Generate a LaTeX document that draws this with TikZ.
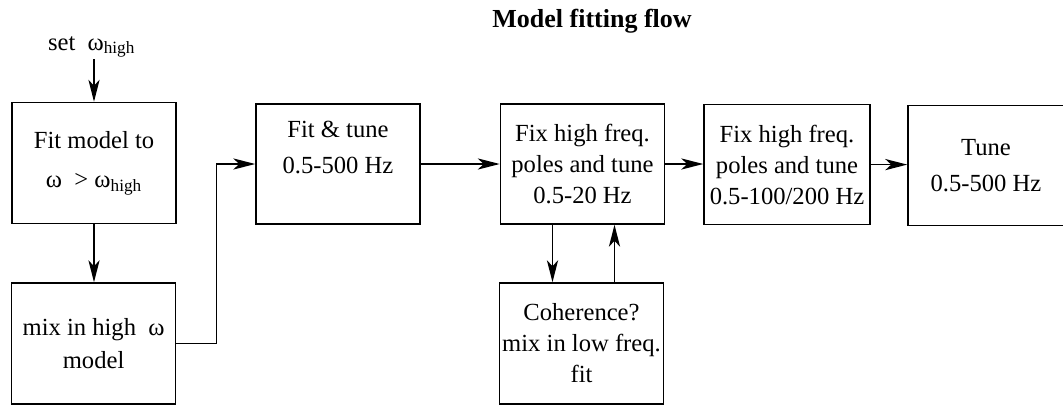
\documentclass[tikz,border=0pt]{standalone}
\usepackage{fontspec}
\setmainfont{LiberationSerif}[Extension=.ttf,UprightFont=*-Regular,BoldFont=*-Bold]
\usetikzlibrary{arrows.meta,positioning}
\newcommand{\omhigh}{ω\textsubscript{high}}
\tikzset{
    stagebox/.style={
        draw=black,line width=1.1pt,align=center,inner sep=1pt,
        minimum width=4.1cm,minimum height=3cm,
        font=\fontsize{17.5}{22}\selectfont
    },
    flowarrow/.style={
        -{Stealth[length=5.5mm,width=2.8mm,inset=1.5mm]},line width=1.1pt
    }
}

\begin{document}
\begin{tikzpicture}
\useasboundingbox (0,0) rectangle (26.575,10.175);

\node[anchor=base,font=\fontsize{18.5}{22}\selectfont\bfseries]
(title) at (14.8,9.5){Model fitting flow};

\node[anchor=base,inner sep=1pt,font=\fontsize{17.5}{22}\selectfont]
(sethigh) at (2.29,8.925){set \ \omhigh};

\node[stagebox,minimum height=3.025cm]
(fitmodel) at (2.35,6.1){Fit model to\\[6pt]
ω \ > \omhigh};

\node[stagebox,minimum height=3.025cm]
(mixhigh) at (2.34,1.5875){mix in high \ ω\\[2pt]
model};

\node[stagebox]
(fittune) at (8.45,6.075){Fit \& tune\\[4pt]
0.5-500 Hz\\[2pt]};

\node[stagebox]
(fixlow) at (14.5625,6.075){Fix high freq.\\
poles and tune\\
0.5-20 Hz};

\node[stagebox,minimum width=4.15cm]
(fixmid) at (19.675,6.06){Fix high freq.\\
poles and tune\\
0.5-100/200 Hz};

\node[stagebox,minimum width=3.9cm]
(tunefull) at (24.65,6.04){Tune\\[4pt]
0.5-500 Hz};

\node[stagebox,minimum height=3.025cm]
(cohfit) at (14.5375,1.5875){Coherence?\\
mix in low freq.\\
fit};

\draw[flowarrow](fitmodel.north |- sethigh.south)--(fitmodel.north);
\draw[flowarrow](fitmodel.south)--(fitmodel.south |- mixhigh.north);
\draw[flowarrow](mixhigh.east)--++(1,0)|-(fittune.west);
\draw[flowarrow](fittune.east)--(fittune.east -| fixlow.west);
\draw[flowarrow](fixlow.east)--(fixlow.east -| fixmid.west);
\draw[flowarrow](fixmid.east)--(fixmid.east -| tunefull.west);
\draw[flowarrow]([xshift=-0.75cm]fixlow.south)--([xshift=-0.75cm]fixlow.south |- cohfit.north);
\draw[flowarrow]([xshift=0.8cm]fixlow.south |- cohfit.north)--([xshift=0.8cm]fixlow.south);

\end{tikzpicture}
\end{document}
